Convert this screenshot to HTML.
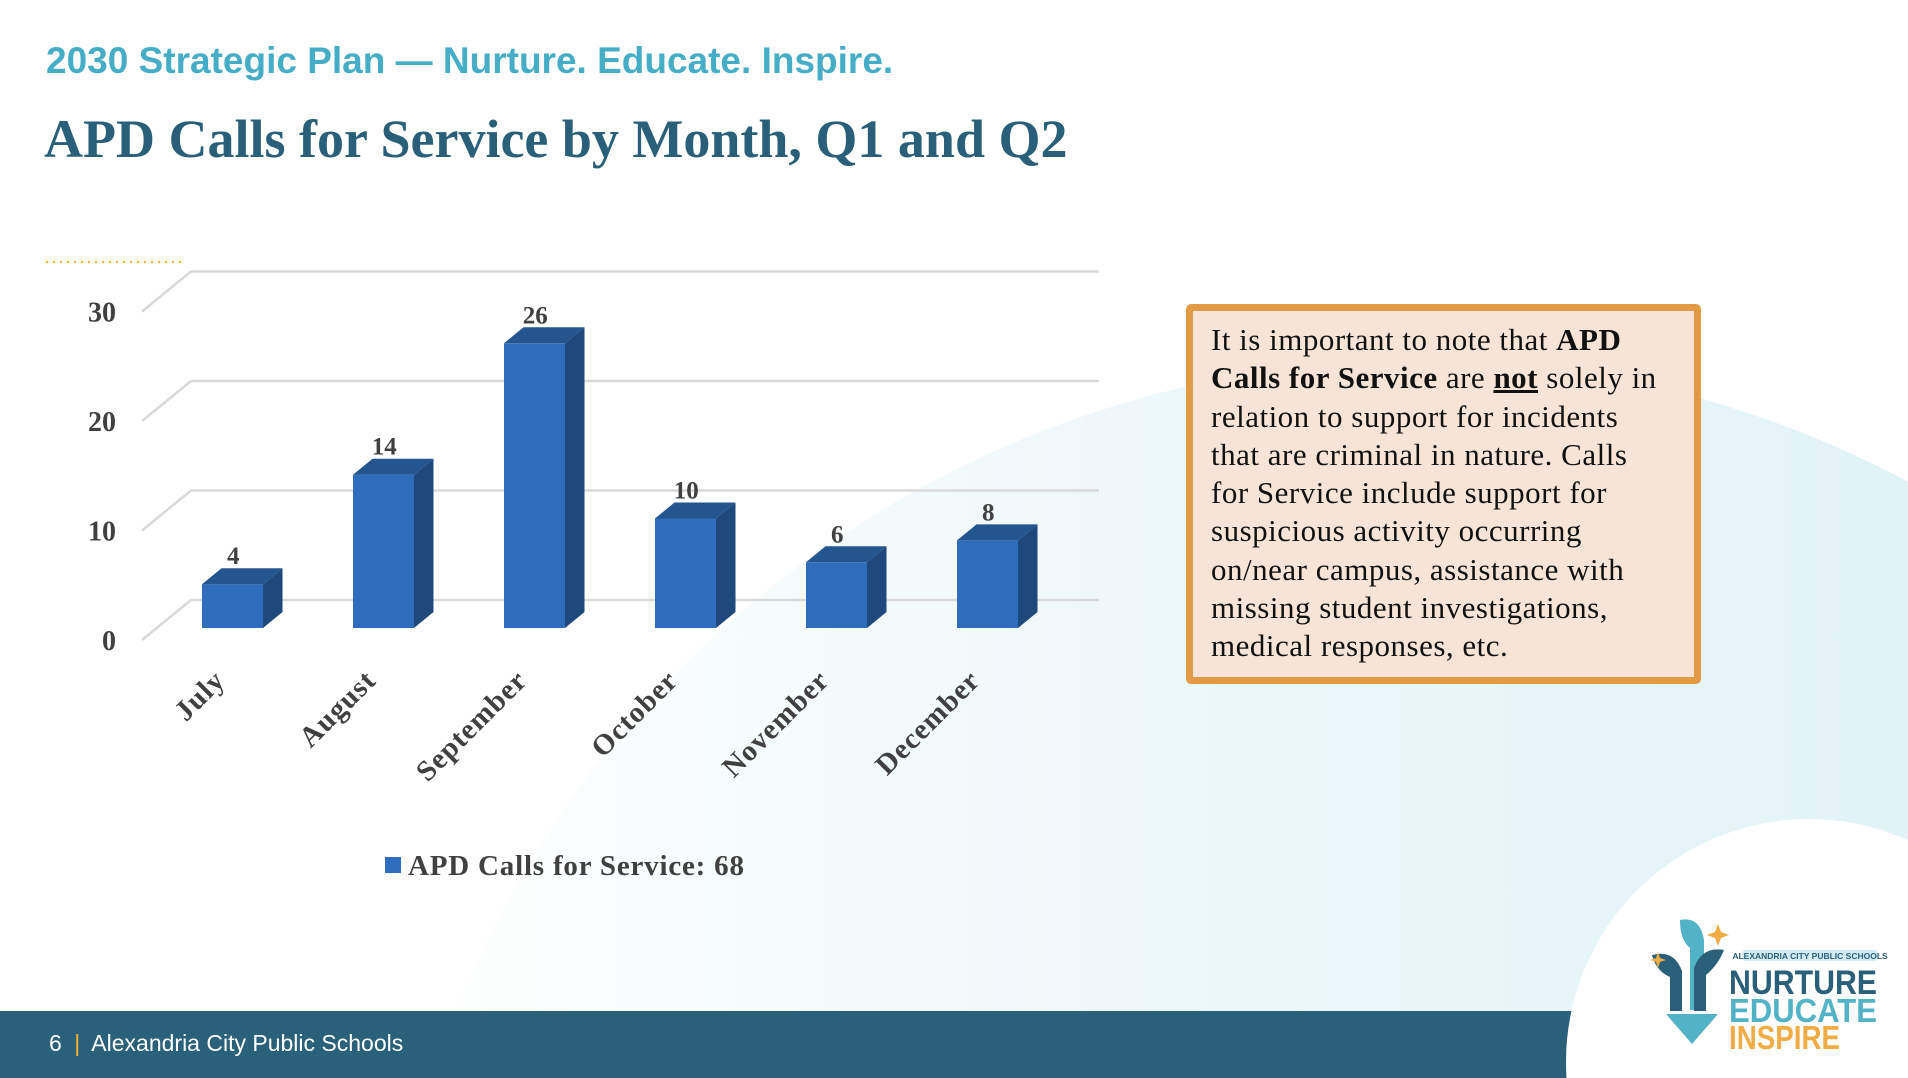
<!DOCTYPE html>
<html><head><meta charset="utf-8"><style>
html,body{margin:0;padding:0;overflow:hidden}
body{width:1908px;height:1078px;position:relative;overflow:hidden;background:#fff;font-family:"Liberation Sans",sans-serif}
.abs{position:absolute}
</style></head><body>
<svg class="abs" style="left:0;top:0" width="1908" height="1078">
<defs>
<linearGradient id="tg" x1="0" y1="0" x2="1" y2="0">
<stop offset="0" stop-color="#ffffff"/><stop offset="0.35" stop-color="#eef8fa"/><stop offset="1" stop-color="#d9eff4"/>
</linearGradient>
</defs>
<circle cx="1420" cy="1400" r="1040" fill="url(#tg)"/>
<rect x="0" y="1011" width="1908" height="67" fill="#2a6079"/>
<circle cx="1809" cy="1062" r="243" fill="#fff"/>
<line x1="46" y1="262" x2="186" y2="262" stroke="#f2b233" stroke-width="2" stroke-dasharray="2 5"/>
</svg>

<div class="abs" style="left:46px;top:40px;font-size:37px;font-weight:bold;color:#45aec6;white-space:nowrap">2030 Strategic Plan — Nurture. Educate. Inspire.</div>
<div class="abs" style="left:44px;top:108px;font-family:'Liberation Serif',serif;font-size:54px;font-weight:bold;color:#2a5f7a;white-space:nowrap">APD Calls for Service by Month, Q1 and Q2</div>

<svg id="chart" class="abs" style="left:0;top:0" width="1150" height="900"></svg>

<div class="abs" style="left:1186px;top:304px;width:501px;height:366px;border:7px solid #e39a44;border-radius:5px;background:#f7e4d6;font-family:'Liberation Serif',serif;font-size:31px;line-height:38.3px;letter-spacing:0.5px;color:#111;overflow:hidden">
<div style="position:absolute;left:18px;top:10px;white-space:nowrap">It is important to note that <b>APD</b><br><b>Calls for Service</b> are <b><u>not</u></b> solely in<br>relation to support for incidents<br>that are criminal in nature. Calls<br>for Service include support for<br>suspicious activity occurring<br>on/near campus, assistance with<br>missing student investigations,<br>medical responses, etc.</div>
</div>

<div class="abs" style="left:49px;top:1030px;font-size:23px;color:#fff;white-space:nowrap">6 <span style="color:#f2b233;margin:0 6px">|</span> Alexandria City Public Schools</div>

<svg class="abs" style="left:1640px;top:910px" width="260" height="145">
<g>
<path d="M40 10 q20 -4 24 20 l0 70 l-14 0 l0 -62 q-10 -8 -10 -28z" fill="#52b3c6"/>
<path d="M12 45 q22 -6 30 16 l0 40 l-12 0 l0 -34 q-14 -6 -18 -22z" fill="#2a6079"/>
<path d="M84 40 q-22 -4 -30 18 l0 43 l12 0 l0 -36 q12 -10 18 -25z" fill="#2a6079"/>
<path d="M26 104 l52 0 l-26 30z" fill="#52b3c6"/>
<path d="M78 14 l3 8 l8 3 l-8 3 l-3 8 l-3 -8 l-8 -3 l8 -3z" fill="#f0ac45"/>
<path d="M18 42 l2 6 l6 2 l-6 2 l-2 6 l-2 -6 l-6 -2 l6 -2z" fill="#f0ac45"/>
</g>
<rect x="102" y="40" width="136" height="11" rx="4" fill="#d2ebf2"/>
<text x="170" y="49" font-size="8.5" font-weight="bold" fill="#2a6079" text-anchor="middle" font-family="Liberation Sans, sans-serif">ALEXANDRIA CITY PUBLIC SCHOOLS</text>
<text x="89" y="84" font-size="34" font-weight="bold" fill="#2a6079" textLength="148" lengthAdjust="spacingAndGlyphs" font-family="Liberation Sans, sans-serif">NURTURE</text>
<text x="89" y="112" font-size="33" font-weight="bold" fill="#52b3c6" textLength="148" lengthAdjust="spacingAndGlyphs" font-family="Liberation Sans, sans-serif">EDUCATE</text>
<text x="89" y="139" font-size="33" font-weight="bold" fill="#f0ac45" textLength="111" lengthAdjust="spacingAndGlyphs" font-family="Liberation Sans, sans-serif">INSPIRE</text>
</svg>

<script>
const categories = ["July","August","September","October","November","December"];
const values = [4,14,26,10,6,8];
const yTicks = [0,10,20,30];
const legendLabel = "APD Calls for Service: 68";

const NS = "http://www.w3.org/2000/svg";
const svg = document.getElementById("chart");
function mk(tag, attrs, parent){ const e=document.createElementNS(NS,tag); for(const k in attrs) e.setAttribute(k,attrs[k]); (parent||svg).appendChild(e); return e; }
const unit = 10.95;
const frontZero = 628, backZero = 600;
const backX0 = 191, backX1 = 1099;
const diagDx = -49, diagDy = 40;
const yFront = v => frontZero - v*unit;
const yBack = v => backZero - v*unit;
const barW = 61, depX = 19.5, depY = -16;
const xBar = i => 202 + i*151;

yTicks.forEach(t=>{
  const y = yBack(t);
  const g = mk("line",{x1:backX0,y1:y,x2:backX1,y2:y,stroke:"#d9d9d9","stroke-width":2.5});
  
  
  const d = mk("line",{x1:backX0,y1:y,x2:backX0+diagDx,y2:y+diagDy,stroke:"#d9d9d9","stroke-width":2.5});
  
  
  const tx = mk("text",{x:116,y:y+50,"text-anchor":"end","font-family":"Liberation Serif, serif","font-weight":"bold","font-size":28,fill:"#404040"});
  tx.textContent = t;
  
  
});

values.forEach((v,i)=>{
  const x = xBar(i), yt = yFront(v), yb = frontZero;
  const g = mk("g",{});
  
  
  mk("rect",{x:x,y:yt,width:barW,height:yb-yt,fill:"#2e6dbb"},g);
  mk("polygon",{points:`${x+barW},${yt} ${x+barW+depX},${yt+depY} ${x+barW+depX},${yb+depY} ${x+barW},${yb}`,fill:"#1f497d"},g);
  mk("polygon",{points:`${x},${yt} ${x+depX},${yt+depY} ${x+barW+depX},${yt+depY} ${x+barW},${yt}`,fill:"#24558f"},g);
  const lb = mk("text",{x:x+barW/2+depX/2-9,y:yt+depY-4,"text-anchor":"middle","font-family":"Liberation Serif, serif","font-weight":"bold","font-size":25,fill:"#404040"});
  lb.textContent = v;
  
  
  const cx = x+barW/2-6, cy = 682;
  const xl = mk("text",{x:cx,y:cy,"text-anchor":"end","font-family":"Liberation Serif, serif","font-weight":"bold","font-size":29,"letter-spacing":1,fill:"#404040",transform:`rotate(-45 ${cx} ${cy})`});
  xl.textContent = categories[i];
  
  
});

const lg = mk("g",{});


mk("rect",{x:385,y:857,width:16,height:16,fill:"#2e6dbb"},lg);
const lt = mk("text",{x:408,y:875,"font-family":"Liberation Serif, serif","font-weight":"bold","font-size":29,"letter-spacing":0.8,fill:"#404040"},lg);
lt.textContent = legendLabel;
</script>
</body></html>
